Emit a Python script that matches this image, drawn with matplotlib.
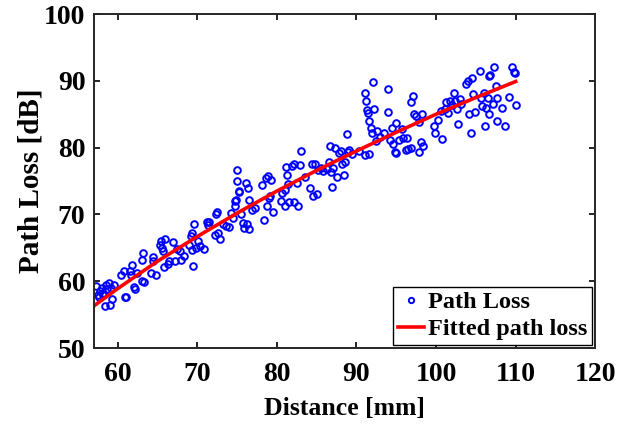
import numpy as np
import matplotlib
matplotlib.use("Agg")
import matplotlib.pyplot as plt

plt.rcParams['font.family'] = ['Liberation Serif', 'DejaVu Serif']
plt.rcParams['font.weight'] = 'bold'

# measured path loss (distance in mm, loss in dB)
dist = [57.3, 57.5, 57.8, 58.0, 58.2, 58.5, 58.7, 58.9, 59.1, 59.5, 58.4, 59.0, 59.3, 57.6, 58.1,
        60.4, 60.8, 61.0, 60.9, 61.5, 61.8, 61.7, 62.0, 62.2, 62.4, 63.0, 63.2, 63.1, 63.3, 64.2, 64.5, 64.8, 64.4,
        65.3, 65.4, 65.6, 65.7, 65.8, 66.0, 66.3, 66.5, 66.9, 67.2, 67.5, 67.8, 68.0, 68.3, 69.0, 69.2, 69.4, 69.5,
        69.6, 69.8, 70.1, 70.3, 70.8, 69.3,
        71.2, 71.3, 71.5, 72.2, 72.4, 72.5, 72.8, 72.6, 73.2, 73.6, 74.0, 74.2, 74.5, 74.7, 74.8, 75.0, 75.0, 75.2,
        75.3, 74.9,
        75.5, 75.7, 75.9, 76.1, 76.2, 76.4, 76.5, 76.5, 76.9, 77.2, 78.1, 78.4, 78.6, 78.7, 78.9, 79.0, 79.3, 79.5, 79.2,
        80.5, 80.7, 81.0, 81.0, 81.2, 81.3, 81.5, 81.4, 81.9, 82.1, 82.2, 82.5, 82.7, 82.9, 83.0, 83.5, 84.2, 84.4,
        84.5, 84.8, 85.0, 85.2,
        85.5, 85.8, 86.3, 86.6, 86.7, 86.8, 86.9, 87.1, 87.3, 87.5, 87.8, 88.0, 88.2, 88.4, 88.6, 88.8, 88.9, 89.1, 89.5,
        90.3, 91.1, 91.1, 91.2, 91.3, 91.4, 91.6, 91.6, 91.8, 92.0, 92.1, 92.2, 92.4, 92.6, 93.0, 93.4, 93.9, 94.0,
        94.2, 94.5, 94.6, 94.8, 95.0, 95.0,
        95.3, 95.7, 95.9, 96.2, 96.3, 96.5, 96.8, 96.9, 97.1, 97.2, 97.5, 97.8, 97.9, 98.1, 98.2, 98.3,
        99.7, 99.9, 100.3, 100.6, 100.7, 101.1, 101.3, 101.5, 101.8, 102.0, 102.2, 102.4, 102.6, 102.8, 103.0, 103.1,
        103.8, 104.0, 104.2, 104.4, 104.5, 104.7, 104.9,
        105.5, 105.6, 105.8, 106.0, 106.3, 106.2, 106.5, 106.6, 106.7, 106.8, 107.1, 107.3, 107.5, 107.6, 107.7,
        108.3, 108.7, 109.2, 109.5, 109.8, 110.0, 109.9]
loss = [59.3, 58.0, 58.6, 59.0, 58.3, 59.5, 58.8, 59.8, 59.0, 59.4, 56.3, 56.4, 57.3, 57.7, 57.9,
        61.0, 61.5, 57.6, 57.7, 61.6, 62.4, 61.0, 59.2, 58.8, 61.2, 63.2, 64.2, 60.0, 59.9, 61.2, 63.7, 60.9, 63.0,
        65.5, 66.0, 65.0, 64.5, 62.2, 66.3, 62.6, 63.0, 65.9, 63.0, 64.9, 64.6, 63.2, 63.8, 65.5, 66.8, 67.2, 62.3,
        68.5, 65.0, 66.0, 65.3, 64.9, 64.7,
        68.9, 68.4, 68.8, 66.9, 70.1, 70.3, 66.3, 67.2, 68.5, 68.3, 68.1, 70.2, 69.5, 72.0, 71.2, 76.7, 75.0, 73.5,
        73.3, 72.1,
        70.0, 68.7, 67.9, 74.7, 68.5, 74.0, 72.1, 67.8, 70.6, 70.9, 74.4, 69.2, 75.4, 71.2, 75.7, 72.4, 75.1, 70.3, 72.7,
        72.0, 73.2, 73.6, 71.2, 77.1, 75.9, 71.9, 74.6, 77.3, 71.9, 77.5, 74.7, 71.3, 77.4, 79.5, 75.6, 74.0, 77.6,
        72.8, 77.5, 73.1, 76.7,
        77.0, 76.5, 76.8, 77.9, 80.3, 76.3, 74.1, 77.0, 80.0, 75.6, 79.2, 79.5, 77.5, 75.9, 77.8, 82.0, 79.3, 79.7, 79.0,
        79.5, 78.9, 88.2, 87.0, 85.6, 85.2, 79.1, 84.0, 82.9, 82.2, 89.9, 85.8, 81.0, 82.5, 81.6, 82.2, 88.8, 85.4,
        81.2, 82.9, 80.6, 79.3, 83.7, 79.2,
        81.1, 82.8, 81.5, 79.6, 81.5, 79.8, 80.0, 86.8, 87.7, 85.1, 84.8, 79.3, 83.8, 80.8, 85.1, 80.3,
        83.3, 82.2, 84.1, 85.5, 81.3, 85.8, 86.8, 85.2, 87.0, 86.4, 88.2, 87.0, 85.8, 83.6, 87.3, 86.5,
        89.6, 90.0, 85.0, 82.2, 90.4, 88.0, 85.4,
        91.4, 87.4, 86.3, 88.2, 86.0, 83.3, 87.5, 90.7, 85.0, 90.9, 86.6, 92.0, 89.3, 87.5, 84.0,
        85.9, 83.3, 87.6, 92.0, 91.3, 86.4, 91.1]

# fitted curve
fit_dist = [57, 60, 65, 70, 75, 80, 85, 90, 95, 100, 105, 110]
fit_loss = [56.3, 58.9, 63.0, 66.7, 70.2, 73.5, 76.6, 79.5, 82.3, 85.0, 87.5, 89.9]

fig = plt.figure(figsize=(6.38, 4.25), dpi=100)
ax = fig.add_axes([0.147, 0.181, 0.786, 0.786])

ax.plot(dist, loss, 'o', ls='none', mfc='none', mec='#0000ff', ms=4.8, mew=1.4, label='Path Loss')
ax.plot(fit_dist, fit_loss, '-', color='#ff0000', lw=2.6, label='Fitted path loss')

ax.set_xlim(57, 120)
ax.set_ylim(50, 100)
ax.set_xticks(np.arange(60, 121, 10))
ax.set_yticks(np.arange(50, 101, 10))
ax.tick_params(direction='in', length=4, width=1.2, labelsize=20, top=True, right=True)
ax.tick_params(axis='x', pad=10)
ax.tick_params(axis='y', pad=6)
for s in ax.spines.values():
    s.set_linewidth(1.4)
    s.set_color('#262626')

ax.set_xlabel('Distance [mm]', fontsize=18.5, fontweight='bold', labelpad=7)
ax.set_ylabel('Path Loss [dB]', fontsize=21, fontweight='bold', labelpad=0)

leg = ax.legend(loc='lower right', fontsize=17.5, fancybox=False, framealpha=1, edgecolor='black',
                borderaxespad=0.12, handlelength=1.1, handletextpad=0.15, borderpad=0.2,
                labelspacing=0.2, numpoints=1, markerscale=0.8)
leg.get_frame().set_linewidth(1.0)

fig.savefig('out.png', dpi=100)
